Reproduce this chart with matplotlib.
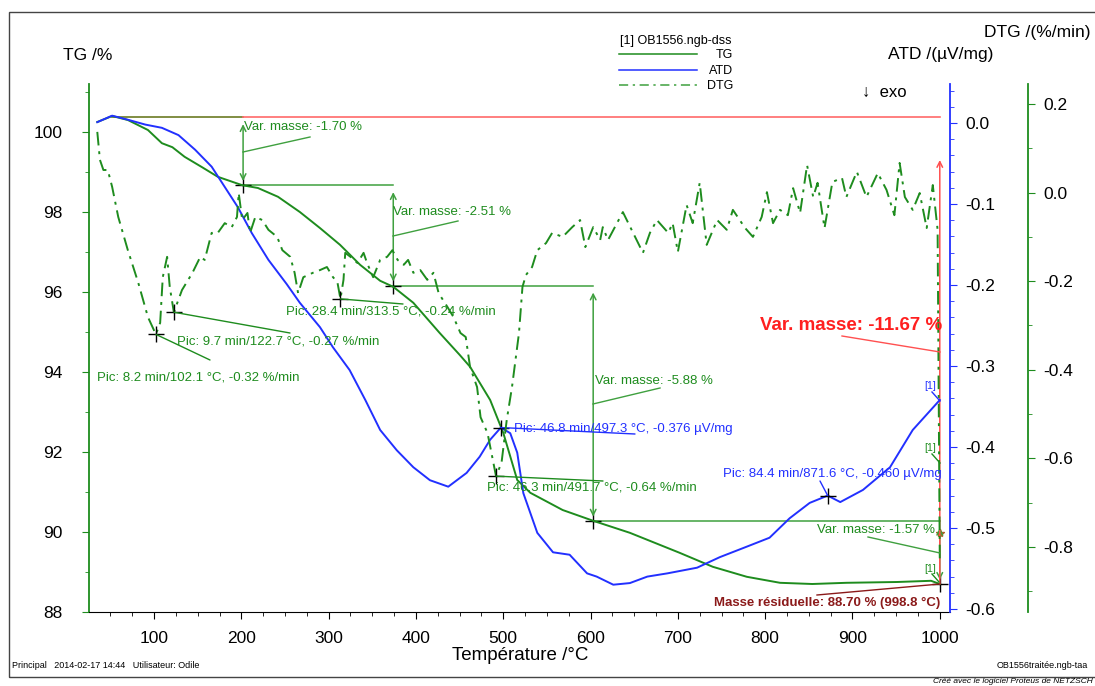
import matplotlib
matplotlib.use('Agg')
import matplotlib.pyplot as plt
from matplotlib.ticker import MultipleLocator
from matplotlib.lines import Line2D
from matplotlib.patches import Rectangle

plt.rcParams['font.family'] = ['Liberation Sans', 'DejaVu Sans']

# TG curve (%)
temp_tg = [35, 52, 70, 93, 109, 121, 135, 155, 173, 201,
           219, 242, 267, 290, 313, 336, 359, 374, 397, 427,
           450, 462, 485, 500, 516, 531, 568, 603, 645, 702,
           740, 779, 817, 854, 893, 951, 990, 1000]
tg = [100.25, 100.4, 100.3, 100.05, 99.72, 99.62, 99.38, 99.12, 98.88, 98.67,
      98.6, 98.38, 98.0, 97.6, 97.18, 96.68, 96.28, 96.13, 95.73, 94.98,
      94.43, 94.13, 93.3, 92.48, 91.3, 90.98, 90.55, 90.28, 89.98, 89.48,
      89.13, 88.88, 88.73, 88.7, 88.73, 88.75, 88.78, 88.7]

# ATD curve (uV/mg)
temp_atd = [35, 52, 70, 90, 109, 128, 147, 166, 181, 196,
            212, 231, 252, 267, 290, 305, 324, 342, 359, 378,
            397, 416, 437, 458, 473, 485, 497.3, 508, 516, 523,
            539, 557, 576, 596, 607, 626, 645, 665, 688, 722,
            748, 779, 805, 828, 851, 871.6, 886, 912, 943, 969, 1000]
atd = [0.001, 0.009, 0.004, -0.002, -0.006, -0.015, -0.033, -0.054, -0.079, -0.104,
       -0.136, -0.169, -0.199, -0.222, -0.252, -0.277, -0.305, -0.342, -0.379, -0.404,
       -0.425, -0.441, -0.449, -0.432, -0.412, -0.391, -0.376, -0.383, -0.407, -0.457,
       -0.506, -0.530, -0.533, -0.556, -0.560, -0.570, -0.568, -0.560, -0.556, -0.549,
       -0.536, -0.523, -0.512, -0.488, -0.469, -0.460, -0.468, -0.453, -0.425, -0.379, -0.342]

# DTG curve (%/min)
temp_dtg = [35, 38, 42, 47, 52, 59, 70, 82, 93, 102.1,
            107, 110, 115, 118, 122.7, 132, 144, 153, 158, 166,
            173, 181, 189, 195, 197, 201, 207, 210, 216, 224,
            231, 241, 247, 256, 261, 265, 271, 282, 290, 298,
            305, 310, 313.5, 317, 319, 325, 333, 340, 344, 351,
            359, 367, 373, 379, 386, 391, 397, 405, 413, 420,
            426, 436, 443, 451, 457, 462, 470, 474, 482, 491.7,
            498, 504, 510, 518, 522, 526, 533, 539, 549, 556,
            568, 579, 588, 594, 603, 611, 614, 620, 637, 651,
            660, 668, 676, 689, 694, 700, 710, 717, 725, 733,
            745, 756, 763, 777, 786, 796, 802, 809, 817, 826,
            832, 840, 848, 855, 860, 868, 877, 888, 893, 905,
            916, 929, 939, 948, 954, 960, 969, 977, 985, 992,
            997.5, 1000]
dtg = [0.137, 0.074, 0.051, 0.051, 0.013, -0.055, -0.130, -0.204, -0.281, -0.32,
       -0.294, -0.191, -0.145, -0.213, -0.27, -0.220, -0.181, -0.145, -0.152, -0.091,
       -0.091, -0.069, -0.078, -0.055, -0.001, -0.062, -0.046, -0.091, -0.055, -0.062,
       -0.084, -0.100, -0.130, -0.145, -0.181, -0.227, -0.191, -0.181, -0.175, -0.168,
       -0.191, -0.202, -0.24, -0.197, -0.136, -0.145, -0.159, -0.136, -0.159, -0.191,
       -0.152, -0.145, -0.130, -0.152, -0.163, -0.152, -0.181, -0.175, -0.197, -0.181,
       -0.227, -0.258, -0.281, -0.317, -0.326, -0.394, -0.439, -0.507, -0.543, -0.64,
       -0.610, -0.513, -0.439, -0.317, -0.213, -0.186, -0.168, -0.130, -0.114, -0.091,
       -0.100, -0.078, -0.062, -0.123, -0.078, -0.107, -0.078, -0.107, -0.044, -0.100,
       -0.136, -0.091, -0.062, -0.091, -0.069, -0.134, -0.028, -0.069, 0.022, -0.118,
       -0.062, -0.084, -0.039, -0.080, -0.100, -0.055, 0.001, -0.069, -0.039, -0.051,
       0.010, -0.046, 0.062, -0.010, 0.022, -0.080, 0.024, 0.033, -0.010, 0.047,
       -0.010, 0.044, 0.006, -0.051, 0.067, -0.010, -0.039, -0.001, -0.080, 0.017,
       -0.084, -0.83]

# mass steps
step_temps = [202, 374, 603, 1000]
tg_levels = [100.37, 98.67, 96.16, 90.28, 88.70]
step_labels = ['Var. masse: -1.70 %', 'Var. masse: -2.51 %',
               'Var. masse: -5.88 %', 'Var. masse: -1.57 %']

# peaks
dtg_peak_t = [102.1, 122.7, 313.5, 491.7]
dtg_peak_v = [-0.32, -0.27, -0.24, -0.64]
dtg_peak_labels = ['Pic: 8.2 min/102.1 °C, -0.32 %/min',
                   'Pic: 9.7 min/122.7 °C, -0.27 %/min',
                   'Pic: 28.4 min/313.5 °C, -0.24 %/min',
                   'Pic: 46.3 min/491.7 °C, -0.64 %/min']
atd_peak_t = [497.3, 871.6]
atd_peak_v = [-0.376, -0.460]
atd_peak_labels = ['Pic: 46.8 min/497.3 °C, -0.376 µV/mg',
                   'Pic: 84.4 min/871.6 °C, -0.460 µV/mg']

GREEN = '#1e8c1e'
LGREEN = '#3fa03f'
BLUE = '#2230ff'
RED = '#ff2020'
DRED = '#8b1a1a'

W, H = 1095, 686
fig = plt.figure(figsize=(W / 100, H / 100), dpi=100)


def px(x, y):
    # reference pixel (top-left origin) -> figure pixels
    return (x, H - y)


def ftext(x, y, s, **kw):
    fig.text(x / W, (H - y) / H, s, **kw)


ax = fig.add_axes([89 / W, (H - 612) / H, (950 - 89) / W, (612 - 84) / H])
ax2 = ax.twinx()
ax3 = ax.twinx()

ax.set_xlim(25.5, 1011.7)
ax.set_ylim(88.0, 101.2)
ax2.set_ylim(-0.6037, 0.0481)
ax3.set_ylim(-0.9467, 0.2451)

# curves
ax.plot(temp_tg, tg, color=GREEN, lw=1.4, zorder=3)
ax2.plot(temp_atd, atd, color=BLUE, lw=1.4)
ax3.plot(temp_dtg, dtg, color=GREEN, lw=1.4, ls=(0, (7, 3, 1.5, 3)))

# mass step construction
ax.plot([52, step_temps[0]], [tg_levels[0]] * 2, color='#6b7a22', lw=1.2)
ax.plot([step_temps[0], 1000], [tg_levels[0]] * 2, color='#ff6a6a', lw=1.2)
for i in range(3):
    ax.plot([step_temps[i], step_temps[i + 1]], [tg_levels[i + 1]] * 2,
            color=LGREEN, lw=1.1)
for i in range(4):
    ax.annotate('', xy=(step_temps[i], tg_levels[i + 1]),
                xytext=(step_temps[i], tg_levels[i]),
                arrowprops=dict(arrowstyle='<->', color=LGREEN, lw=1.1,
                                shrinkA=5, shrinkB=3, mutation_scale=10))
ax.plot(step_temps, tg_levels[1:], '+', color='black', ms=11, mew=1)

# leader lines + labels for steps
step_lead = [((243, 152), (310, 137)), ((393, 236), (458, 221)),
             ((593, 404), (660, 388)), ((940, 553), (868, 537))]
for (a, b) in step_lead:
    fig.add_artist(Line2D([a[0] / W, b[0] / W], [(H - a[1]) / H, (H - b[1]) / H],
                          color=LGREEN, lw=1.0))
ftext(244, 127, step_labels[0], color=GREEN, fontsize=9.5, va='center')
ftext(393, 212, step_labels[1], color=GREEN, fontsize=9.5, va='center')
ftext(595, 381, step_labels[2], color=GREEN, fontsize=9.5, va='center')
ftext(935, 530, step_labels[3], color=GREEN, fontsize=9.5, va='center', ha='right')

# total mass change
ax.annotate('', xy=(1000, 99.3), xytext=(1000, tg_levels[-1]),
            arrowprops=dict(arrowstyle='->', color='#ff5050', lw=1.1,
                            shrinkA=0, shrinkB=0, mutation_scale=10))
fig.add_artist(Line2D([842 / W, 940 / W], [(H - 336) / H, (H - 352) / H],
                      color='#ff5050', lw=1.0))
ftext(942, 325, 'Var. masse: -11.67 %', color=RED, fontsize=13.5,
      fontweight='bold', va='center', ha='right')
ax.plot([1000], [89.98], '*', color='#b0602a', ms=6)

# residual mass
fig.add_artist(Line2D([817 / W, 940 / W], [(H - 595) / H, (H - 584) / H],
                      color=DRED, lw=1.0))
ftext(940, 603, 'Masse résiduelle: 88.70 % (998.8 °C)', color=DRED,
      fontsize=9.5, fontweight='bold', va='center', ha='right')

# DTG peaks
dtg_lead_end = [(210, 360), (290, 333), (403, 304), (603, 481)]
dtg_text_pos = [(97, 377), (177, 341), (286, 312), (487, 488)]
for t, v, lab, le, tp in zip(dtg_peak_t, dtg_peak_v, dtg_peak_labels,
                             dtg_lead_end, dtg_text_pos):
    ax3.plot([t], [v], '+', color='black', ms=11, mew=1)
    ax3.annotate('', xy=(t, v), xytext=px(*le), textcoords='figure pixels',
                 arrowprops=dict(arrowstyle='-', color=GREEN, lw=1.0,
                                 shrinkA=0, shrinkB=0))
    ftext(tp[0], tp[1], lab, color=GREEN, fontsize=9.5, va='center')

# ATD peaks
atd_lead_end = [(635, 434), (820, 481)]
for t, v, le in zip(atd_peak_t, atd_peak_v, atd_lead_end):
    ax2.plot([t], [v], '+', color='black', ms=11, mew=1)
    ax2.annotate('', xy=(t, v), xytext=px(*le), textcoords='figure pixels',
                 arrowprops=dict(arrowstyle='-', color=BLUE, lw=1.0,
                                 shrinkA=0, shrinkB=0))
ftext(514, 429, atd_peak_labels[0], color=BLUE, fontsize=9.5, va='center')
ftext(942, 474, atd_peak_labels[1], color=BLUE, fontsize=9.5, va='center', ha='right')

# [1] curve tags at the end
for (tx, ty), (a, b), c in [((930, 386), ((932, 392), (940, 401)), BLUE),
                           ((930, 448), ((932, 454), (940, 463)), GREEN),
                           ((930, 569), ((932, 574), (939, 582)), GREEN)]:
    ftext(tx, ty, '[1]', color=c, fontsize=7.5, va='center', ha='center')
    fig.add_artist(Line2D([a[0] / W, b[0] / W], [(H - a[1]) / H, (H - b[1]) / H],
                          color=c, lw=1.0))

# spines and ticks
for s in ['top', 'right']:
    ax.spines[s].set_visible(False)
ax.spines['left'].set_color(GREEN)
ax.spines['left'].set_linewidth(1.3)
for a in (ax2, ax3):
    for s in ['top', 'left', 'bottom']:
        a.spines[s].set_visible(False)
ax2.spines['right'].set_color(BLUE)
ax2.spines['right'].set_linewidth(1.3)
ax3.spines['right'].set_color(GREEN)
ax3.spines['right'].set_linewidth(1.3)
ax3.spines['right'].set_position(('axes', (1028 - 89) / (950 - 89)))

ax.xaxis.set_major_locator(MultipleLocator(100))
ax.xaxis.set_minor_locator(MultipleLocator(25))
ax.yaxis.set_major_locator(MultipleLocator(2))
ax.yaxis.set_minor_locator(MultipleLocator(1))
ax2.yaxis.set_major_locator(MultipleLocator(0.1))
ax2.yaxis.set_minor_locator(MultipleLocator(0.02))
ax3.yaxis.set_major_locator(MultipleLocator(0.2))
ax3.yaxis.set_minor_locator(MultipleLocator(0.1))

ax.set_xticks([100, 200, 300, 400, 500, 600, 700, 800, 900, 1000])
ax.tick_params(axis='x', which='major', length=5, pad=9, labelsize=12.5)
ax.tick_params(axis='x', which='minor', length=3)
ax.tick_params(axis='y', which='both', colors=GREEN, labelcolor='black')
ax.tick_params(axis='y', which='major', length=5, pad=14, labelsize=12.5)
ax.tick_params(axis='y', which='minor', length=3)
ax2.tick_params(axis='y', which='both', colors=BLUE, labelcolor='black')
ax2.tick_params(axis='y', which='major', length=5, pad=6, labelsize=12.5)
ax2.tick_params(axis='y', which='minor', length=3)
ax3.tick_params(axis='y', which='both', colors=GREEN, labelcolor='black')
ax3.tick_params(axis='y', which='major', length=5, pad=6, labelsize=12.5)
ax3.tick_params(axis='y', which='minor', length=3)
ax2.yaxis.set_major_formatter(plt.FuncFormatter(lambda v, p: f'{v:.1f}'))
ax3.yaxis.set_major_formatter(plt.FuncFormatter(lambda v, p: f'{v:.1f}'))

# axis titles
ftext(63, 55, 'TG /%', fontsize=12.5, va='center')
ftext(1090, 33, 'DTG /(%/min)', fontsize=12.5, va='center', ha='right')
ftext(888, 55, 'ATD /(µV/mg)', fontsize=12.5, va='center')
ftext(862, 92, '↓  exo', fontsize=12, va='center')
ftext(520, 655, 'Température /°C', fontsize=13.5, va='center', ha='center')

# legend
ftext(620, 41, '[1] OB1556.ngb-dss', fontsize=9, va='center')
leg = [('TG', GREEN, '-', 54), ('ATD', BLUE, '-', 70), ('DTG', LGREEN, (0, (6, 3, 1.5, 3)), 85)]
for name, c, ls, y in leg:
    fig.add_artist(Line2D([619 / W, 697 / W], [(H - y) / H] * 2, color=c, ls=ls, lw=1.1))
    ftext(733, y + 1, name, fontsize=9, va='center', ha='right')

# footer and frame
fig.add_artist(Rectangle((9 / W, (H - 677) / H), 1.0, (677 - 12) / H,
                         transform=fig.transFigure, fill=False,
                         edgecolor='#444444', lw=1.0))
ftext(12, 666, 'Principal   2014-02-17 14:44   Utilisateur: Odile', fontsize=6.5, va='center')
ftext(1088, 666, 'OB1556traitée.ngb-taa', fontsize=6.5, va='center', ha='right')
ftext(1093, 681.5, 'Créé avec le logiciel Proteus de NETZSCH', fontsize=6,
      style='italic', va='center', ha='right')

fig.savefig('out.png', dpi=100)
